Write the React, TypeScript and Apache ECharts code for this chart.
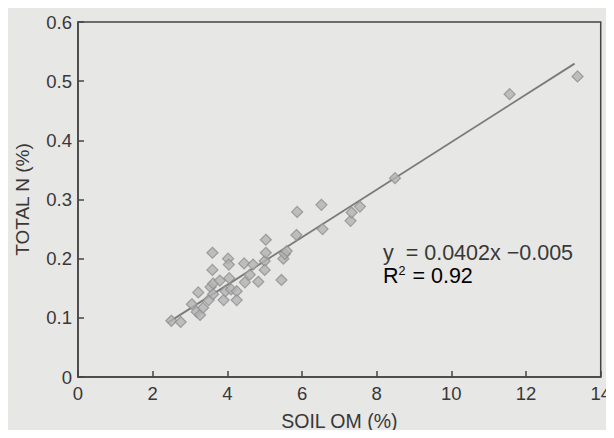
import React, { useEffect, useRef } from "react";
import * as echarts from "echarts";

const soilOM = [2.5, 2.75, 3.05, 3.18, 3.22, 3.27, 3.35, 3.5, 3.55, 3.6, 3.6, 3.62, 3.62, 3.8, 3.9, 3.95, 4.02, 4.04, 4.05, 4.1, 4.25, 4.25, 4.45, 4.47, 4.6, 4.69, 4.83, 5.0, 5.0, 5.03, 5.03, 5.45, 5.5, 5.54, 5.59, 5.85, 5.87, 6.52, 6.55, 7.3, 7.33, 7.55, 8.49, 11.56, 13.38];
const totalN = [0.095, 0.093, 0.123, 0.11, 0.143, 0.105, 0.117, 0.13, 0.152, 0.21, 0.181, 0.158, 0.14, 0.163, 0.13, 0.145, 0.2, 0.19, 0.167, 0.148, 0.145, 0.13, 0.192, 0.16, 0.173, 0.19, 0.161, 0.196, 0.181, 0.232, 0.21, 0.164, 0.2, 0.208, 0.213, 0.24, 0.279, 0.291, 0.25, 0.264, 0.278, 0.288, 0.336, 0.478, 0.508];
const slope = 0.0402;
const intercept = -0.005;
const fitX = [2.4, 13.3];
const xTicks = [0, 2, 4, 6, 8, 10, 12, 14];
const yTicks = [0, 0.1, 0.2, 0.3, 0.4, 0.5, 0.6];

export default function App() {
  const ref = useRef<HTMLDivElement>(null);
  useEffect(() => {
    const chart = echarts.init(ref.current!, null, { renderer: "svg" });
    const font = "'Liberation Sans', Arial, sans-serif";
    const txt = "#383838";
    chart.setOption({
      animation: false,
      backgroundColor: "#e7e7e5",
      grid: { left: 78, right: 13, top: 22, bottom: 61, show: true, borderColor: "#444", borderWidth: 1.5, backgroundColor: "transparent" },
      xAxis: {
        type: "value", min: 0, max: 14, interval: 2,
        name: "SOIL OM (%)", nameLocation: "middle", nameGap: 34,
        nameTextStyle: { fontFamily: font, fontSize: 19.5, color: txt },
        axisLine: { lineStyle: { color: "#444", width: 1.5 } },
        axisTick: { inside: true, length: 6, lineStyle: { color: "#444", width: 1.5 } },
        axisLabel: { fontFamily: font, fontSize: 18.5, color: txt, margin: 7, formatter: (v: number) => (xTicks.includes(v) ? String(v) : "") },
        splitLine: { show: false },
      },
      yAxis: {
        type: "value", min: 0, max: 0.6, interval: 0.1,
        name: "TOTAL N (%)", nameLocation: "middle", nameGap: 46,
        nameTextStyle: { fontFamily: font, fontSize: 19, color: txt },
        axisLine: { show: true, lineStyle: { color: "#444", width: 1.5 } },
        axisTick: { show: true, inside: true, length: 6, lineStyle: { color: "#444", width: 1.5 } },
        axisLabel: { fontFamily: font, fontSize: 18.5, color: txt, margin: 6, formatter: (v: number) => { const t = yTicks.find((y) => Math.abs(y - v) < 1e-9); return t === undefined ? "" : t === 0 ? "0" : t.toFixed(1); } },
        splitLine: { show: false },
      },
      series: [
        {
          type: "line",
          data: fitX.map((x) => [x, slope * x + intercept]),
          showSymbol: false, symbol: "none",
          lineStyle: { color: "#7a7a7a", width: 1.8 },
          z: 2,
        },
        {
          type: "scatter",
          data: soilOM.map((x, i) => [x, totalN[i]]),
          symbol: "diamond", symbolSize: 11,
          itemStyle: { color: "#b3b3b3", borderColor: "#8e8e8e", borderWidth: 1.2 },
          z: 3,
        },
      ],
      graphic: [
        { type: "text", left: 383, top: 242, style: { text: "y  = 0.0402x \u22120.005", fontFamily: font, fontSize: 21.5, fill: txt } },
        { type: "text", left: 383, top: 264, style: { text: "{a|R}{s|2}{a| = 0.92}", rich: { a: { fontFamily: font, fontSize: 21.5, color: txt }, s: { fontFamily: font, fontSize: 12.5, color: txt, verticalAlign: "top", padding: [0, 1, 10, 0] } } } },
      ],
    });
    return () => chart.dispose();
  }, []);
  return <div ref={ref} style={{ width: 614, height: 438, margin: -8 }} />;
}
